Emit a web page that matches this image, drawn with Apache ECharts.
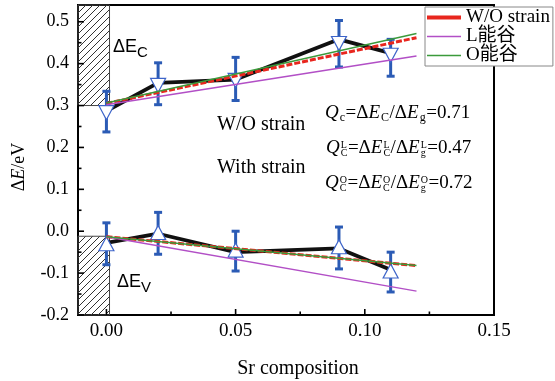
<!DOCTYPE html>
<html>
<head>
<meta charset="utf-8">
<title>ΔE - Sr composition</title>
<script src="https://cdn.jsdelivr.net/npm/echarts@6/dist/echarts.min.js"></script>
<style>
  html, body { margin: 0; padding: 0; background: #fff; }
  #chart { width: 555px; height: 381px; }
</style>
</head>
<body>
<div id="chart"></div>
<script>
// ---- data ----
var srX = [0, 0.02, 0.05, 0.09, 0.11];

// conduction band offset (down triangles)
var cbMid = [0.283, 0.348, 0.36, 0.448, 0.42];
var cbLow = [0.237, 0.302, 0.312, 0.392, 0.37];
var cbHigh = [0.334, 0.402, 0.415, 0.503, 0.458];
var cbLine = [0.287, 0.354, 0.362, 0.458, 0.425];

// valence band offset (up triangles)
var vbMid = [-0.03, -0.003, -0.045, -0.037, -0.095];
var vbLow = [-0.08, -0.055, -0.095, -0.09, -0.145];
var vbHigh = [0.02, 0.045, 0.0, 0.01, -0.05];
var vbLine = [-0.028, -0.006, -0.05, -0.041, -0.092];

// linear fits
var fitX = [0, 0.12];
var cbWo = [0.305, 0.462];
var cbL = [0.302, 0.418];
var cbO = [0.306, 0.472];
var vbWo = [-0.013, -0.082];
var vbL = [-0.013, -0.143];
var vbO = [-0.013, -0.082];

// hatched reference blocks
var hatchX = [-0.011, 0.0012];
var cbHatchY = [0.3, 0.54];
var vbHatchY = [-0.2, -0.012];

// axis ranges and ticks
var xRange = [-0.011, 0.15];
var yRange = [-0.2, 0.54];
var xTicks = [0, 0.05, 0.1, 0.15];
var xMinor = [0.025, 0.075, 0.125];
var yTicks = [-0.2, -0.1, 0, 0.1, 0.2, 0.3, 0.4, 0.5];
var yMinor = [-0.15, -0.05, 0.05, 0.15, 0.25, 0.35, 0.45];

var SERIF = '"Liberation Serif", "Times New Roman", "Noto Sans CJK SC", serif';
var SANS = '"Liberation Sans", Arial, sans-serif';
var BLUE = '#2b5bb5';

function pairs(xs, ys) {
  return xs.map(function (x, i) { return [x, ys[i]]; });
}

// diagonal hatch pattern
function hatchPattern() {
  var c = document.createElement('canvas');
  c.width = 7; c.height = 7;
  var g = c.getContext('2d');
  g.strokeStyle = '#333';
  g.lineWidth = 1;
  g.beginPath();
  g.moveTo(-1, 8); g.lineTo(8, -1);
  g.moveTo(-1, 1); g.lineTo(1, -1);
  g.moveTo(6, 8); g.lineTo(8, 6);
  g.stroke();
  return { image: c, repeat: 'repeat' };
}

// text helpers for the formulas
var measureCtx = document.createElement('canvas').getContext('2d');
function textWidth(t, font) {
  measureCtx.font = font;
  return measureCtx.measureText(t).width;
}
function txt(x, base, t, font, size) {
  return {
    type: 'text', x: x, y: base - 0.34 * size, z: 100,
    style: {
      text: t, font: font, fill: '#000',
      align: 'left', verticalAlign: 'middle',
      textAlign: 'left', textVerticalAlign: 'middle'
    }
  };
}
function formula(x0, base, fs, family, parts) {
  var out = [], x = x0;
  parts.forEach(function (p) {
    if (p.t) {
      var font = (p.it ? 'italic ' : '') + fs + 'px ' + family;
      out.push(txt(x, base, p.t, font, fs));
      x += textWidth(p.t, font) + (p.it ? 1 : 0);
    } else {
      var ss = p.size, sf = ss + 'px ' + family, w = 0;
      if (p.sub) {
        out.push(txt(x, base + p.drop, p.sub, sf, ss));
        w = Math.max(w, textWidth(p.sub, sf));
      }
      if (p.sup) {
        out.push(txt(x, base - p.rise, p.sup, sf, ss));
        w = Math.max(w, textWidth(p.sup, sf));
      }
      x += w + 0.5;
    }
  });
  return out;
}
function sub(s) { return { sub: s, size: 12, drop: 3 }; }
function both(sp, sb) { return { sup: sp, sub: sb, size: 10, rise: 5, drop: 3 }; }

var graphics = []
  .concat(formula(113, 53, 18, SANS, [{ t: 'ΔE' }, { sub: 'C', size: 15, drop: 5 }]))
  .concat(formula(117, 288, 18, SANS, [{ t: 'ΔE' }, { sub: 'V', size: 15, drop: 5 }]))
  .concat(formula(217, 132, 20, SERIF, [{ t: 'W/O strain' }]))
  .concat(formula(217, 175, 20, SERIF, [{ t: 'With strain' }]))
  .concat(formula(325, 119, 19, SERIF, [
    { t: 'Q', it: true }, sub('c'), { t: '=Δ' }, { t: 'E', it: true }, sub('C'),
    { t: '/Δ' }, { t: 'E', it: true }, sub('g'), { t: '=0.71' }]))
  .concat(formula(326, 154, 19, SERIF, [
    { t: 'Q', it: true }, both('L', 'C'), { t: '=Δ' }, { t: 'E', it: true }, both('L', 'C'),
    { t: '/Δ' }, { t: 'E', it: true }, both('L', 'g'), { t: '=0.47' }]))
  .concat(formula(325, 189, 19, SERIF, [
    { t: 'Q', it: true }, both('O', 'C'), { t: '=Δ' }, { t: 'E', it: true }, both('O', 'C'),
    { t: '/Δ' }, { t: 'E', it: true }, both('O', 'g'), { t: '=0.72' }]));

function errorBars(lo, hi) {
  return {
    type: 'custom',
    z: 3,
    silent: true,
    encode: { x: 0, y: [1, 2] },
    renderItem: function (params, api) {
      var x = api.value(0);
      var a = api.coord([x, api.value(1)]);
      var b = api.coord([x, api.value(2)]);
      var w = 4;
      var st = { stroke: BLUE, lineWidth: 3 };
      return {
        type: 'group',
        children: [
          { type: 'line', shape: { x1: a[0], y1: a[1], x2: b[0], y2: b[1] }, style: st },
          { type: 'line', shape: { x1: a[0] - w, y1: a[1], x2: a[0] + w, y2: a[1] }, style: st },
          { type: 'line', shape: { x1: b[0] - w, y1: b[1], x2: b[0] + w, y2: b[1] }, style: st }
        ]
      };
    },
    data: srX.map(function (x, i) { return [x, lo[i], hi[i]]; })
  };
}

function marks(ys, rot) {
  return {
    type: 'scatter',
    z: 4,
    symbol: 'triangle',
    symbolSize: [15, 14],
    symbolRotate: rot,
    itemStyle: { color: '#fff', borderColor: '#3d64c9', borderWidth: 1.2, opacity: 1 },
    data: pairs(srX, ys)
  };
}

function trend(ys) {
  return {
    type: 'line',
    z: 2,
    symbol: 'none',
    lineStyle: { color: '#111', width: 3.8 },
    data: pairs(srX, ys)
  };
}

function fit(name, ys, color, width, type) {
  return {
    name: name,
    type: 'line',
    z: 5,
    symbol: 'none',
    lineStyle: { color: color, width: width, type: type || 'solid' },
    itemStyle: { color: color },
    data: pairs(fitX, ys)
  };
}

var hatch = hatchPattern();
var hatchStyle = { color: hatch, borderColor: '#444', borderWidth: 1, opacity: 1 };

var myChart = echarts.init(document.getElementById('chart'), null, { renderer: 'canvas' });
var option = {
  animation: false,
  backgroundColor: '#fff',
  grid: {
    left: 78, right: 61, top: 5, bottom: 66,
    show: true, borderColor: '#000', borderWidth: 2,
    outerBoundsMode: 'none'
  },
  legend: {
    orient: 'vertical',
    left: 425, top: 7,
    padding: [1, 3, 1, 2],
    itemWidth: 34, itemHeight: 12, itemGap: 0,
    backgroundColor: '#fff',
    borderColor: '#888', borderWidth: 1,
    textStyle: { fontFamily: SERIF, fontSize: 19, color: '#000' },
    data: [
      { name: 'W/O strain', icon: 'path://M0,0H34V4H0Z' },
      { name: 'L能谷', icon: 'path://M0,0H68V3H0Z' },
      { name: 'O能谷', icon: 'path://M0,0H68V3H0Z' }
    ]
  },
  xAxis: {
    type: 'value', min: xRange[0], max: xRange[1], position: 'bottom',
    name: 'Sr composition', nameLocation: 'middle', nameGap: 44,
    nameTextStyle: { fontFamily: SERIF, fontSize: 20, color: '#000', padding: [0, 0, 0, 24] },
    axisLine: { show: false, onZero: false },
    axisTick: { show: false },
    axisLabel: {
      customValues: xTicks, margin: 7,
      fontFamily: SERIF, fontSize: 19, color: '#000',
      formatter: function (v) { return v.toFixed(2); }
    },
    splitLine: { show: false }
  },
  yAxis: {
    type: 'value', min: yRange[0], max: yRange[1], position: 'left',
    name: '{n|Δ}{i|E}{n|/eV}', nameLocation: 'middle', nameRotate: 90, nameGap: 50,
    nameTextStyle: {
      padding: [0, 14, 0, 0],
      rich: {
        n: { fontFamily: SERIF, fontSize: 18, color: '#000' },
        i: { fontFamily: SERIF, fontSize: 18, fontStyle: 'italic', color: '#000' }
      }
    },
    axisLine: { show: false, onZero: false },
    axisTick: { show: false },
    axisLabel: {
      customValues: yTicks, margin: 9,
      fontFamily: SERIF, fontSize: 18, color: '#000',
      formatter: function (v) { return v.toFixed(1); }
    },
    splitLine: { show: false }
  },
  graphic: graphics,
  series: [
    {
      type: 'line',
      z: 1,
      symbol: 'none',
      lineStyle: { opacity: 0 },
      data: [],
      markArea: {
        silent: true,
        itemStyle: hatchStyle,
        data: [
          [{ xAxis: hatchX[0], yAxis: cbHatchY[0] }, { xAxis: hatchX[1], yAxis: cbHatchY[1] }],
          [{ xAxis: hatchX[0], yAxis: vbHatchY[0] }, { xAxis: hatchX[1], yAxis: vbHatchY[1] }]
        ]
      }
    },
    trend(cbLine),
    trend(vbLine),
    errorBars(cbLow, cbHigh),
    errorBars(vbLow, vbHigh),
    marks(cbMid, 180),
    marks(vbMid, 0),
    fit('W/O strain', cbWo, '#e8261e', 3, [6, 2]),
    fit('W/O strain', vbWo, '#e8261e', 3, [6, 2]),
    fit('L能谷', cbL, '#b24fc6', 1.5),
    fit('L能谷', vbL, '#b24fc6', 1.5),
    fit('O能谷', cbO, '#3b9a3b', 1.5),
    fit('O能谷', vbO, '#3b9a3b', 1.5)
  ]
};
myChart.setOption(option);

// inward ticks, placed through the chart's own scales
function tickLine(values, dim, len) {
  return values.map(function (v) {
    var p = myChart.convertToPixel({ gridIndex: 0 }, dim === 'x' ? [v, yRange[0]] : [xRange[0], v]);
    var shape = dim === 'x'
      ? { x1: p[0], y1: p[1], x2: p[0], y2: p[1] - len }
      : { x1: p[0], y1: p[1], x2: p[0] + len, y2: p[1] };
    return { type: 'line', z: 50, silent: true, shape: shape, style: { stroke: '#000', lineWidth: 1.6 } };
  });
}
var tickGraphics = []
  .concat(tickLine(xTicks, 'x', 6))
  .concat(tickLine(xMinor, 'x', 3.5))
  .concat(tickLine(yTicks, 'y', 6))
  .concat(tickLine(yMinor, 'y', 3.5));
myChart.setOption({ graphic: graphics.concat(tickGraphics) });
</script>
</body>
</html>
